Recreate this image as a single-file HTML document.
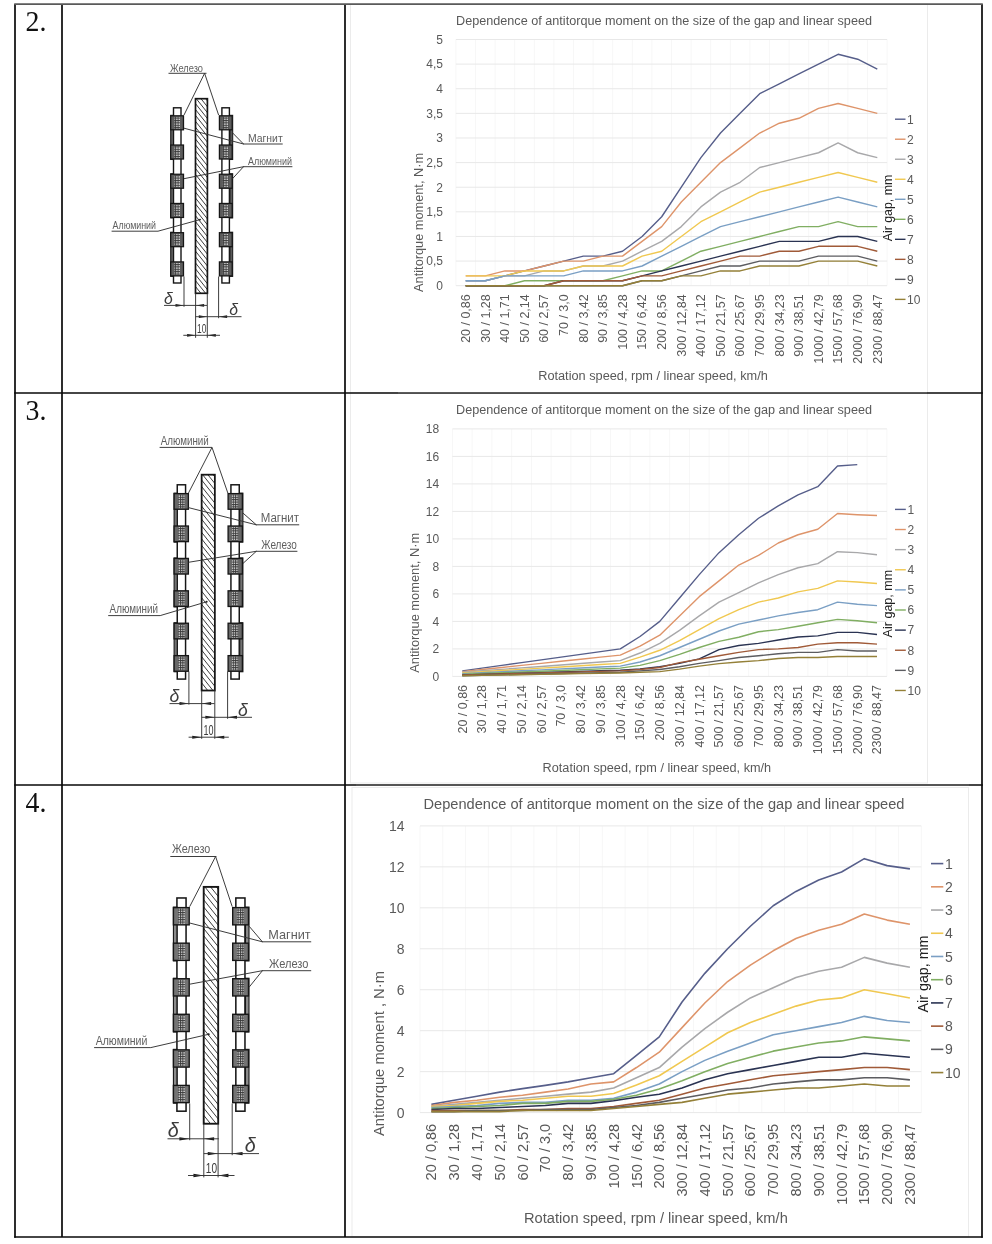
<!DOCTYPE html>
<html lang="en"><head><meta charset="utf-8"><title>Antitorque moment table</title>
<style>html,body{margin:0;padding:0;background:#fff}body{width:992px;height:1244px;position:relative;overflow:hidden;font-family:"Liberation Sans",sans-serif}#pg{position:absolute;left:0;top:0;filter:blur(0.4px)}text{font-family:"Liberation Sans",sans-serif}.num{font-family:"Liberation Serif",serif;font-size:29px;fill:#111}</style></head><body>
<svg id="pg" width="992" height="1244" viewBox="0 0 992 1244">
<rect width="992" height="1244" fill="#fff"/>
<!-- charts -->
<g><rect x="350.5" y="4" width="577.0" height="389" fill="#fff" stroke="#ebebeb" stroke-width="1"/>
<path d="M455.9 39.5V285.7M475.5 39.5V285.7M495.1 39.5V285.7M514.7 39.5V285.7M534.3 39.5V285.7M553.9 39.5V285.7M573.5 39.5V285.7M593.1 39.5V285.7M612.7 39.5V285.7M632.3 39.5V285.7M651.9 39.5V285.7M671.5 39.5V285.7M691.1 39.5V285.7M710.7 39.5V285.7M730.3 39.5V285.7M749.9 39.5V285.7M769.5 39.5V285.7M789.1 39.5V285.7M808.7 39.5V285.7M828.3 39.5V285.7M847.9 39.5V285.7M867.5 39.5V285.7M887.1 39.5V285.7" stroke="#f7f7f7" stroke-width="1" fill="none"/>
<path d="M455.9 285.7H887.1M455.9 261.08H887.1M455.9 236.46H887.1M455.9 211.84H887.1M455.9 187.22H887.1M455.9 162.6H887.1M455.9 137.98H887.1M455.9 113.36H887.1M455.9 88.74H887.1M455.9 64.12H887.1M455.9 39.5H887.1" stroke="#e8e8e8" stroke-width="1" fill="none"/>
<g font-size="12" fill="#595959" text-anchor="end">
<text x="443" y="290.02">0</text>
<text x="443" y="265.4">0,5</text>
<text x="443" y="240.78">1</text>
<text x="443" y="216.16">1,5</text>
<text x="443" y="191.54">2</text>
<text x="443" y="166.92">2,5</text>
<text x="443" y="142.3">3</text>
<text x="443" y="117.68">3,5</text>
<text x="443" y="93.06">4</text>
<text x="443" y="68.44">4,5</text>
<text x="443" y="43.82">5</text>
</g>
<g font-size="12.48" fill="#595959" text-anchor="end">
<text transform="translate(470.02 294.3) rotate(-90)">20 / 0,86</text>
<text transform="translate(489.62 294.3) rotate(-90)">30 / 1,28</text>
<text transform="translate(509.22 294.3) rotate(-90)">40 / 1,71</text>
<text transform="translate(528.82 294.3) rotate(-90)">50 / 2,14</text>
<text transform="translate(548.42 294.3) rotate(-90)">60 / 2,57</text>
<text transform="translate(568.02 294.3) rotate(-90)">70 / 3,0</text>
<text transform="translate(587.62 294.3) rotate(-90)">80 / 3,42</text>
<text transform="translate(607.22 294.3) rotate(-90)">90 / 3,85</text>
<text transform="translate(626.82 294.3) rotate(-90)">100 / 4,28</text>
<text transform="translate(646.42 294.3) rotate(-90)">150 / 6,42</text>
<text transform="translate(666.02 294.3) rotate(-90)">200 / 8,56</text>
<text transform="translate(685.62 294.3) rotate(-90)">300 / 12,84</text>
<text transform="translate(705.22 294.3) rotate(-90)">400 / 17,12</text>
<text transform="translate(724.82 294.3) rotate(-90)">500 / 21,57</text>
<text transform="translate(744.42 294.3) rotate(-90)">600 / 25,67</text>
<text transform="translate(764.02 294.3) rotate(-90)">700 / 29,95</text>
<text transform="translate(783.62 294.3) rotate(-90)">800 / 34,23</text>
<text transform="translate(803.22 294.3) rotate(-90)">900 / 38,51</text>
<text transform="translate(822.82 294.3) rotate(-90)">1000 / 42,79</text>
<text transform="translate(842.42 294.3) rotate(-90)">1500 / 57,68</text>
<text transform="translate(862.02 294.3) rotate(-90)">2000 / 76,90</text>
<text transform="translate(881.62 294.3) rotate(-90)">2300 / 88,47</text>
</g>
<text x="456" y="24.5" font-size="12" fill="#595959" textLength="416" lengthAdjust="spacingAndGlyphs">Dependence of antitorque moment on the size of the gap and linear speed</text>
<text x="538.2" y="380.3" font-size="12" fill="#595959" textLength="229.6" lengthAdjust="spacingAndGlyphs">Rotation speed, rpm / linear speed, km/h</text>
<text transform="translate(423 222.4) rotate(-90)" text-anchor="middle" font-size="12.5" fill="#595959" textLength="139" lengthAdjust="spacingAndGlyphs">Antitorque moment, N·m</text>
<polyline points="465.7,280.78 485.3,280.78 504.9,275.85 524.5,270.93 544.1,266 563.7,261.08 583.3,256.16 602.9,256.16 622.5,251.23 642.1,236.46 661.7,216.76 681.3,187.22 700.9,157.68 720.5,133.06 740.1,113.36 759.7,93.66 779.3,83.82 798.9,73.97 818.5,64.12 838.1,54.27 857.7,59.2 877.3,69.04" fill="none" stroke="#565e8a" stroke-width="1.4" stroke-linejoin="round"/>
<polyline points="465.7,275.85 485.3,275.85 504.9,270.93 524.5,270.93 544.1,266 563.7,261.08 583.3,261.08 602.9,256.16 622.5,256.16 642.1,241.38 661.7,226.61 681.3,201.99 700.9,182.3 720.5,162.6 740.1,147.83 759.7,133.06 779.3,123.21 798.9,118.28 818.5,108.44 838.1,103.51 857.7,108.44 877.3,113.36" fill="none" stroke="#de946a" stroke-width="1.4" stroke-linejoin="round"/>
<polyline points="465.7,280.78 485.3,280.78 504.9,275.85 524.5,275.85 544.1,270.93 563.7,270.93 583.3,266 602.9,266 622.5,261.08 642.1,251.23 661.7,241.38 681.3,226.61 700.9,206.92 720.5,192.14 740.1,182.3 759.7,167.52 779.3,162.6 798.9,157.68 818.5,152.75 838.1,142.9 857.7,152.75 877.3,157.68" fill="none" stroke="#a8a8aa" stroke-width="1.4" stroke-linejoin="round"/>
<polyline points="465.7,275.85 485.3,275.85 504.9,275.85 524.5,270.93 544.1,270.93 563.7,270.93 583.3,266 602.9,266 622.5,266 642.1,256.16 661.7,251.23 681.3,236.46 700.9,221.69 720.5,211.84 740.1,201.99 759.7,192.14 779.3,187.22 798.9,182.3 818.5,177.37 838.1,172.45 857.7,177.37 877.3,182.3" fill="none" stroke="#f0c850" stroke-width="1.4" stroke-linejoin="round"/>
<polyline points="465.7,280.78 485.3,280.78 504.9,275.85 524.5,275.85 544.1,275.85 563.7,275.85 583.3,270.93 602.9,270.93 622.5,270.93 642.1,266 661.7,256.16 681.3,246.31 700.9,236.46 720.5,226.61 740.1,221.69 759.7,216.76 779.3,211.84 798.9,206.92 818.5,201.99 838.1,197.07 857.7,201.99 877.3,206.92" fill="none" stroke="#7a9fc4" stroke-width="1.4" stroke-linejoin="round"/>
<polyline points="465.7,285.7 485.3,285.7 504.9,285.7 524.5,280.78 544.1,280.78 563.7,280.78 583.3,280.78 602.9,280.78 622.5,275.85 642.1,270.93 661.7,270.93 681.3,261.08 700.9,251.23 720.5,246.31 740.1,241.38 759.7,236.46 779.3,231.54 798.9,226.61 818.5,226.61 838.1,221.69 857.7,226.61 877.3,226.61" fill="none" stroke="#80ae62" stroke-width="1.4" stroke-linejoin="round"/>
<polyline points="465.7,285.7 485.3,285.7 504.9,285.7 524.5,285.7 544.1,285.7 563.7,280.78 583.3,280.78 602.9,280.78 622.5,280.78 642.1,275.85 661.7,270.93 681.3,266 700.9,261.08 720.5,256.16 740.1,251.23 759.7,246.31 779.3,241.38 798.9,241.38 818.5,241.38 838.1,236.46 857.7,236.46 877.3,241.38" fill="none" stroke="#2a3352" stroke-width="1.4" stroke-linejoin="round"/>
<polyline points="465.7,285.7 485.3,285.7 504.9,285.7 524.5,285.7 544.1,285.7 563.7,280.78 583.3,280.78 602.9,280.78 622.5,280.78 642.1,275.85 661.7,275.85 681.3,270.93 700.9,266 720.5,261.08 740.1,256.16 759.7,256.16 779.3,251.23 798.9,251.23 818.5,246.31 838.1,246.31 857.7,246.31 877.3,251.23" fill="none" stroke="#a05a38" stroke-width="1.4" stroke-linejoin="round"/>
<polyline points="465.7,285.7 485.3,285.7 504.9,285.7 524.5,285.7 544.1,285.7 563.7,285.7 583.3,285.7 602.9,285.7 622.5,285.7 642.1,280.78 661.7,280.78 681.3,275.85 700.9,270.93 720.5,266 740.1,266 759.7,261.08 779.3,261.08 798.9,261.08 818.5,256.16 838.1,256.16 857.7,256.16 877.3,261.08" fill="none" stroke="#5c5c60" stroke-width="1.4" stroke-linejoin="round"/>
<polyline points="465.7,285.7 485.3,285.7 504.9,285.7 524.5,285.7 544.1,285.7 563.7,285.7 583.3,285.7 602.9,285.7 622.5,285.7 642.1,280.78 661.7,280.78 681.3,275.85 700.9,275.85 720.5,270.93 740.1,270.93 759.7,266 779.3,266 798.9,266 818.5,261.08 838.1,261.08 857.7,261.08 877.3,266" fill="none" stroke="#948038" stroke-width="1.4" stroke-linejoin="round"/>
<line x1="895" x2="905.5" y1="119.2" y2="119.2" stroke="#565e8a" stroke-width="1.4"/>
<text x="907" y="123.52" font-size="12" fill="#595959">1</text>
<line x1="895" x2="905.5" y1="139.22" y2="139.22" stroke="#de946a" stroke-width="1.4"/>
<text x="907" y="143.54" font-size="12" fill="#595959">2</text>
<line x1="895" x2="905.5" y1="159.24" y2="159.24" stroke="#a8a8aa" stroke-width="1.4"/>
<text x="907" y="163.56" font-size="12" fill="#595959">3</text>
<line x1="895" x2="905.5" y1="179.26" y2="179.26" stroke="#f0c850" stroke-width="1.4"/>
<text x="907" y="183.58" font-size="12" fill="#595959">4</text>
<line x1="895" x2="905.5" y1="199.28" y2="199.28" stroke="#7a9fc4" stroke-width="1.4"/>
<text x="907" y="203.6" font-size="12" fill="#595959">5</text>
<line x1="895" x2="905.5" y1="219.3" y2="219.3" stroke="#80ae62" stroke-width="1.4"/>
<text x="907" y="223.62" font-size="12" fill="#595959">6</text>
<line x1="895" x2="905.5" y1="239.32" y2="239.32" stroke="#2a3352" stroke-width="1.4"/>
<text x="907" y="243.64" font-size="12" fill="#595959">7</text>
<line x1="895" x2="905.5" y1="259.34" y2="259.34" stroke="#a05a38" stroke-width="1.4"/>
<text x="907" y="263.66" font-size="12" fill="#595959">8</text>
<line x1="895" x2="905.5" y1="279.36" y2="279.36" stroke="#5c5c60" stroke-width="1.4"/>
<text x="907" y="283.68" font-size="12" fill="#595959">9</text>
<line x1="895" x2="905.5" y1="299.38" y2="299.38" stroke="#948038" stroke-width="1.4"/>
<text x="907" y="303.7" font-size="12" fill="#595959">10</text>
<text transform="translate(891.5 208) rotate(-90)" text-anchor="middle" font-size="12.5" fill="#222" textLength="66.5" lengthAdjust="spacingAndGlyphs">Air gap, mm</text></g>
<g><rect x="350.5" y="393" width="577.0" height="390" fill="#fff" stroke="#ebebeb" stroke-width="1"/>
<path d="M452.4 428.9V676.4M472.15 428.9V676.4M491.9 428.9V676.4M511.65 428.9V676.4M531.4 428.9V676.4M551.15 428.9V676.4M570.9 428.9V676.4M590.65 428.9V676.4M610.4 428.9V676.4M630.15 428.9V676.4M649.9 428.9V676.4M669.65 428.9V676.4M689.4 428.9V676.4M709.15 428.9V676.4M728.9 428.9V676.4M748.65 428.9V676.4M768.4 428.9V676.4M788.15 428.9V676.4M807.9 428.9V676.4M827.65 428.9V676.4M847.4 428.9V676.4M867.15 428.9V676.4M886.9 428.9V676.4" stroke="#f7f7f7" stroke-width="1" fill="none"/>
<path d="M452.4 676.4H886.9M452.4 648.9H886.9M452.4 621.4H886.9M452.4 593.9H886.9M452.4 566.4H886.9M452.4 538.9H886.9M452.4 511.4H886.9M452.4 483.9H886.9M452.4 456.4H886.9M452.4 428.9H886.9" stroke="#e8e8e8" stroke-width="1" fill="none"/>
<g font-size="12" fill="#595959" text-anchor="end">
<text x="439.2" y="680.72">0</text>
<text x="439.2" y="653.22">2</text>
<text x="439.2" y="625.72">4</text>
<text x="439.2" y="598.22">6</text>
<text x="439.2" y="570.72">8</text>
<text x="439.2" y="543.22">10</text>
<text x="439.2" y="515.72">12</text>
<text x="439.2" y="488.22">14</text>
<text x="439.2" y="460.72">16</text>
<text x="439.2" y="433.22">18</text>
</g>
<g font-size="12.48" fill="#595959" text-anchor="end">
<text transform="translate(466.59 685) rotate(-90)">20 / 0,86</text>
<text transform="translate(486.34 685) rotate(-90)">30 / 1,28</text>
<text transform="translate(506.09 685) rotate(-90)">40 / 1,71</text>
<text transform="translate(525.85 685) rotate(-90)">50 / 2,14</text>
<text transform="translate(545.6 685) rotate(-90)">60 / 2,57</text>
<text transform="translate(565.35 685) rotate(-90)">70 / 3,0</text>
<text transform="translate(585.1 685) rotate(-90)">80 / 3,42</text>
<text transform="translate(604.85 685) rotate(-90)">90 / 3,85</text>
<text transform="translate(624.6 685) rotate(-90)">100 / 4,28</text>
<text transform="translate(644.35 685) rotate(-90)">150 / 6,42</text>
<text transform="translate(664.1 685) rotate(-90)">200 / 8,56</text>
<text transform="translate(683.85 685) rotate(-90)">300 / 12,84</text>
<text transform="translate(703.6 685) rotate(-90)">400 / 17,12</text>
<text transform="translate(723.35 685) rotate(-90)">500 / 21,57</text>
<text transform="translate(743.1 685) rotate(-90)">600 / 25,67</text>
<text transform="translate(762.85 685) rotate(-90)">700 / 29,95</text>
<text transform="translate(782.6 685) rotate(-90)">800 / 34,23</text>
<text transform="translate(802.35 685) rotate(-90)">900 / 38,51</text>
<text transform="translate(822.1 685) rotate(-90)">1000 / 42,79</text>
<text transform="translate(841.85 685) rotate(-90)">1500 / 57,68</text>
<text transform="translate(861.6 685) rotate(-90)">2000 / 76,90</text>
<text transform="translate(881.35 685) rotate(-90)">2300 / 88,47</text>
</g>
<text x="456" y="413.5" font-size="12" fill="#595959" textLength="416" lengthAdjust="spacingAndGlyphs">Dependence of antitorque moment on the size of the gap and linear speed</text>
<text x="542.6" y="772.1" font-size="12" fill="#595959" textLength="228.6" lengthAdjust="spacingAndGlyphs">Rotation speed, rpm / linear speed, km/h</text>
<text transform="translate(419.3 602.8) rotate(-90)" text-anchor="middle" font-size="12.5" fill="#595959" textLength="140" lengthAdjust="spacingAndGlyphs">Antitorque moment, N·m</text>
<polyline points="462.27,670.9 482.02,668.15 501.77,665.4 521.52,662.65 541.27,659.9 561.02,657.15 580.77,654.4 600.52,651.65 620.27,648.9 640.02,636.52 659.77,621.4 679.52,598.02 699.27,574.65 719.02,552.65 738.77,534.77 758.52,518.27 778.27,505.9 798.02,494.9 817.77,486.65 837.52,466.02 857.27,464.65" fill="none" stroke="#565e8a" stroke-width="1.4" stroke-linejoin="round"/>
<polyline points="462.27,671.59 482.02,669.52 501.77,667.46 521.52,665.4 541.27,663.34 561.02,661.27 580.77,659.21 600.52,657.15 620.27,655.09 640.02,646.15 659.77,635.15 679.52,615.9 699.27,596.65 719.02,580.84 738.77,565.02 758.52,555.4 778.27,543.02 798.02,534.77 817.77,529.27 837.52,513.46 857.27,514.7 877.02,515.52" fill="none" stroke="#de946a" stroke-width="1.4" stroke-linejoin="round"/>
<polyline points="462.27,672.27 482.02,670.81 501.77,669.35 521.52,667.89 541.27,666.43 561.02,664.97 580.77,663.51 600.52,662.05 620.27,660.59 640.02,653.02 659.77,643.4 679.52,630.34 699.27,615.9 719.02,602.15 738.77,592.52 758.52,582.9 778.27,574.65 798.02,567.77 817.77,563.65 837.52,551.69 857.27,552.65 877.02,554.71" fill="none" stroke="#a8a8aa" stroke-width="1.4" stroke-linejoin="round"/>
<polyline points="462.27,672.96 482.02,671.76 501.77,670.56 521.52,669.35 541.27,668.15 561.02,666.95 580.77,665.74 600.52,664.54 620.27,663.34 640.02,657.15 659.77,650.27 679.52,640.65 699.27,629.65 719.02,618.65 738.77,609.71 758.52,602.15 778.27,598.02 798.02,591.84 817.77,588.4 837.52,580.84 857.27,581.94 877.02,583.45" fill="none" stroke="#f0c850" stroke-width="1.4" stroke-linejoin="round"/>
<polyline points="462.27,673.65 482.02,672.7 501.77,671.76 521.52,670.81 541.27,669.87 561.02,668.92 580.77,667.98 600.52,667.03 620.27,666.09 640.02,661.96 659.77,655.77 679.52,647.52 699.27,639.27 719.02,631.02 738.77,624.15 758.52,620.02 778.27,615.9 798.02,612.46 817.77,609.71 837.52,602.15 857.27,604.21 877.02,605.59" fill="none" stroke="#7a9fc4" stroke-width="1.4" stroke-linejoin="round"/>
<polyline points="462.27,674.34 482.02,673.56 501.77,672.79 521.52,672.02 541.27,671.24 561.02,670.47 580.77,669.7 600.52,668.92 620.27,668.15 640.02,665.4 659.77,660.59 679.52,654.4 699.27,647.52 719.02,641.34 738.77,637.21 758.52,631.71 778.27,629.65 798.02,626.21 817.77,622.77 837.52,619.34 857.27,620.71 877.02,622.77" fill="none" stroke="#80ae62" stroke-width="1.4" stroke-linejoin="round"/>
<polyline points="462.27,675.02 482.02,674.42 501.77,673.82 521.52,673.22 541.27,672.62 561.02,672.02 580.77,671.42 600.52,670.81 620.27,670.21 640.02,668.84 659.77,666.77 679.52,663.34 699.27,658.94 719.02,649.59 738.77,645.46 758.52,643.4 778.27,639.96 798.02,636.94 817.77,635.84 837.52,632.4 857.27,632.4 877.02,634.46" fill="none" stroke="#2a3352" stroke-width="1.4" stroke-linejoin="round"/>
<polyline points="462.27,675.02 482.02,674.51 501.77,673.99 521.52,673.48 541.27,672.96 561.02,672.45 580.77,671.93 600.52,671.42 620.27,670.9 640.02,669.52 659.77,667.46 679.52,662.65 699.27,659.21 719.02,655.77 738.77,652.34 758.52,649.59 778.27,648.9 798.02,647.52 817.77,644.09 837.52,642.71 857.27,642.71 877.02,644.09" fill="none" stroke="#a05a38" stroke-width="1.4" stroke-linejoin="round"/>
<polyline points="462.27,675.71 482.02,675.28 501.77,674.85 521.52,674.42 541.27,673.99 561.02,673.56 580.77,673.13 600.52,672.7 620.27,672.27 640.02,670.9 659.77,669.52 679.52,666.77 699.27,663.34 719.02,660.59 738.77,657.56 758.52,655.77 778.27,653.71 798.02,652.34 817.77,652.34 837.52,649.59 857.27,650.96 877.02,650.96" fill="none" stroke="#5c5c60" stroke-width="1.4" stroke-linejoin="round"/>
<polyline points="462.27,675.71 482.02,675.37 501.77,675.02 521.52,674.68 541.27,674.34 561.02,673.99 580.77,673.65 600.52,673.31 620.27,672.96 640.02,672.27 659.77,671.59 679.52,669.11 699.27,666.09 719.02,663.61 738.77,661.96 758.52,660.59 778.27,658.52 798.02,657.56 817.77,657.56 837.52,656.46 857.27,656.46 877.02,656.46" fill="none" stroke="#948038" stroke-width="1.4" stroke-linejoin="round"/>
<line x1="895" x2="905.8" y1="509.4" y2="509.4" stroke="#565e8a" stroke-width="1.4"/>
<text x="907.5" y="513.72" font-size="12" fill="#595959">1</text>
<line x1="895" x2="905.8" y1="529.52" y2="529.52" stroke="#de946a" stroke-width="1.4"/>
<text x="907.5" y="533.84" font-size="12" fill="#595959">2</text>
<line x1="895" x2="905.8" y1="549.64" y2="549.64" stroke="#a8a8aa" stroke-width="1.4"/>
<text x="907.5" y="553.96" font-size="12" fill="#595959">3</text>
<line x1="895" x2="905.8" y1="569.76" y2="569.76" stroke="#f0c850" stroke-width="1.4"/>
<text x="907.5" y="574.08" font-size="12" fill="#595959">4</text>
<line x1="895" x2="905.8" y1="589.88" y2="589.88" stroke="#7a9fc4" stroke-width="1.4"/>
<text x="907.5" y="594.2" font-size="12" fill="#595959">5</text>
<line x1="895" x2="905.8" y1="610" y2="610" stroke="#80ae62" stroke-width="1.4"/>
<text x="907.5" y="614.32" font-size="12" fill="#595959">6</text>
<line x1="895" x2="905.8" y1="630.12" y2="630.12" stroke="#2a3352" stroke-width="1.4"/>
<text x="907.5" y="634.44" font-size="12" fill="#595959">7</text>
<line x1="895" x2="905.8" y1="650.24" y2="650.24" stroke="#a05a38" stroke-width="1.4"/>
<text x="907.5" y="654.56" font-size="12" fill="#595959">8</text>
<line x1="895" x2="905.8" y1="670.36" y2="670.36" stroke="#5c5c60" stroke-width="1.4"/>
<text x="907.5" y="674.68" font-size="12" fill="#595959">9</text>
<line x1="895" x2="905.8" y1="690.48" y2="690.48" stroke="#948038" stroke-width="1.4"/>
<text x="907.5" y="694.8" font-size="12" fill="#595959">10</text>
<text transform="translate(892 603.6) rotate(-90)" text-anchor="middle" font-size="12.5" fill="#222" textLength="67.6" lengthAdjust="spacingAndGlyphs">Air gap, mm</text></g>
<g><rect x="352" y="787.5" width="616.5" height="449.5" fill="#fff" stroke="#ebebeb" stroke-width="1"/>
<path d="M420 825.9V1112.6M442.79 825.9V1112.6M465.57 825.9V1112.6M488.36 825.9V1112.6M511.15 825.9V1112.6M533.93 825.9V1112.6M556.72 825.9V1112.6M579.5 825.9V1112.6M602.29 825.9V1112.6M625.08 825.9V1112.6M647.86 825.9V1112.6M670.65 825.9V1112.6M693.44 825.9V1112.6M716.22 825.9V1112.6M739.01 825.9V1112.6M761.8 825.9V1112.6M784.58 825.9V1112.6M807.37 825.9V1112.6M830.15 825.9V1112.6M852.94 825.9V1112.6M875.73 825.9V1112.6M898.51 825.9V1112.6M921.3 825.9V1112.6" stroke="#f7f7f7" stroke-width="1" fill="none"/>
<path d="M420 1112.6H921.3M420 1071.64H921.3M420 1030.69H921.3M420 989.73H921.3M420 948.77H921.3M420 907.81H921.3M420 866.86H921.3M420 825.9H921.3" stroke="#e8e8e8" stroke-width="1" fill="none"/>
<g font-size="14" fill="#595959" text-anchor="end">
<text x="404.5" y="1117.64">0</text>
<text x="404.5" y="1076.68">2</text>
<text x="404.5" y="1035.73">4</text>
<text x="404.5" y="994.77">6</text>
<text x="404.5" y="953.81">8</text>
<text x="404.5" y="912.85">10</text>
<text x="404.5" y="871.9">12</text>
<text x="404.5" y="830.94">14</text>
</g>
<g font-size="14.56" fill="#595959" text-anchor="end">
<text transform="translate(436.43 1123.8) rotate(-90)">20 / 0,86</text>
<text transform="translate(459.22 1123.8) rotate(-90)">30 / 1,28</text>
<text transform="translate(482.01 1123.8) rotate(-90)">40 / 1,71</text>
<text transform="translate(504.79 1123.8) rotate(-90)">50 / 2,14</text>
<text transform="translate(527.58 1123.8) rotate(-90)">60 / 2,57</text>
<text transform="translate(550.37 1123.8) rotate(-90)">70 / 3,0</text>
<text transform="translate(573.15 1123.8) rotate(-90)">80 / 3,42</text>
<text transform="translate(595.94 1123.8) rotate(-90)">90 / 3,85</text>
<text transform="translate(618.72 1123.8) rotate(-90)">100 / 4,28</text>
<text transform="translate(641.51 1123.8) rotate(-90)">150 / 6,42</text>
<text transform="translate(664.3 1123.8) rotate(-90)">200 / 8,56</text>
<text transform="translate(687.08 1123.8) rotate(-90)">300 / 12,84</text>
<text transform="translate(709.87 1123.8) rotate(-90)">400 / 17,12</text>
<text transform="translate(732.66 1123.8) rotate(-90)">500 / 21,57</text>
<text transform="translate(755.44 1123.8) rotate(-90)">600 / 25,67</text>
<text transform="translate(778.23 1123.8) rotate(-90)">700 / 29,95</text>
<text transform="translate(801.01 1123.8) rotate(-90)">800 / 34,23</text>
<text transform="translate(823.8 1123.8) rotate(-90)">900 / 38,51</text>
<text transform="translate(846.59 1123.8) rotate(-90)">1000 / 42,79</text>
<text transform="translate(869.37 1123.8) rotate(-90)">1500 / 57,68</text>
<text transform="translate(892.16 1123.8) rotate(-90)">2000 / 76,90</text>
<text transform="translate(914.95 1123.8) rotate(-90)">2300 / 88,47</text>
</g>
<text x="423.5" y="808.5" font-size="14" fill="#595959" textLength="481" lengthAdjust="spacingAndGlyphs">Dependence of antitorque moment on the size of the gap and linear speed</text>
<text x="524" y="1223.4" font-size="14" fill="#595959" textLength="263.8" lengthAdjust="spacingAndGlyphs">Rotation speed, rpm / linear speed, km/h</text>
<text transform="translate(384.3 1053.5) rotate(-90)" text-anchor="middle" font-size="14.5" fill="#595959" textLength="165" lengthAdjust="spacingAndGlyphs">Antitorque moment , N·m</text>
<polyline points="431.39,1104.41 454.18,1100.31 476.97,1096.22 499.75,1092.12 522.54,1088.64 545.33,1085.36 568.11,1081.88 590.9,1077.79 613.68,1073.69 636.47,1055.26 659.26,1036.83 682.04,1002.02 704.83,973.35 727.62,948.77 750.4,926.24 773.19,905.77 795.97,891.43 818.76,879.96 841.55,871.98 864.33,858.67 887.12,865.63 909.91,868.9" fill="none" stroke="#565e8a" stroke-width="1.6" stroke-linejoin="round"/>
<polyline points="431.39,1105.43 454.18,1102.36 476.97,1100.31 499.75,1097.24 522.54,1095.19 545.33,1092.12 568.11,1089.05 590.9,1083.93 613.68,1081.88 636.47,1067.55 659.26,1052.19 682.04,1027.61 704.83,1003.04 727.62,981.54 750.4,965.15 773.19,950.82 795.97,938.53 818.76,930.34 841.55,924.2 864.33,913.96 887.12,920.1 909.91,924.2" fill="none" stroke="#de946a" stroke-width="1.6" stroke-linejoin="round"/>
<polyline points="431.39,1106.46 454.18,1104.41 476.97,1102.36 499.75,1100.31 522.54,1098.26 545.33,1096.22 568.11,1094.17 590.9,1092.12 613.68,1088.03 636.47,1077.79 659.26,1067.55 682.04,1047.07 704.83,1028.64 727.62,1012.25 750.4,997.92 773.19,987.68 795.97,977.44 818.76,971.3 841.55,967.2 864.33,957.37 887.12,963.11 909.91,967.2" fill="none" stroke="#a8a8aa" stroke-width="1.6" stroke-linejoin="round"/>
<polyline points="431.39,1106.46 454.18,1105.43 476.97,1103.38 499.75,1101.34 522.54,1100.31 545.33,1098.26 568.11,1096.22 590.9,1096.22 613.68,1093.55 636.47,1084.95 659.26,1075.74 682.04,1061.4 704.83,1047.07 727.62,1032.73 750.4,1022.49 773.19,1014.3 795.97,1006.11 818.76,999.97 841.55,997.92 864.33,989.73 887.12,993.82 909.91,997.92" fill="none" stroke="#f0c850" stroke-width="1.6" stroke-linejoin="round"/>
<polyline points="431.39,1107.48 454.18,1106.46 476.97,1105.43 499.75,1103.38 522.54,1102.36 545.33,1102.36 568.11,1100.31 590.9,1100.31 613.68,1098.26 636.47,1092.12 659.26,1083.93 682.04,1071.64 704.83,1060.38 727.62,1051.16 750.4,1042.97 773.19,1034.78 795.97,1030.69 818.76,1026.59 841.55,1022.49 864.33,1016.35 887.12,1020.45 909.91,1022.49" fill="none" stroke="#7a9fc4" stroke-width="1.6" stroke-linejoin="round"/>
<polyline points="431.39,1108.5 454.18,1107.48 476.97,1106.46 499.75,1105.43 522.54,1103.38 545.33,1103.38 568.11,1101.34 590.9,1101.34 613.68,1099.29 636.47,1095.19 659.26,1089.05 682.04,1080.86 704.83,1071.64 727.62,1063.45 750.4,1057.31 773.19,1051.16 795.97,1047.07 818.76,1042.97 841.55,1040.92 864.33,1036.83 887.12,1038.88 909.91,1040.92" fill="none" stroke="#80ae62" stroke-width="1.6" stroke-linejoin="round"/>
<polyline points="431.39,1109.53 454.18,1108.5 476.97,1108.5 499.75,1107.48 522.54,1106.46 545.33,1105.43 568.11,1103.38 590.9,1103.38 613.68,1100.72 636.47,1097.24 659.26,1094.17 682.04,1088.03 704.83,1079.83 727.62,1073.69 750.4,1069.59 773.19,1065.5 795.97,1061.4 818.76,1057.31 841.55,1057.31 864.33,1053.21 887.12,1055.26 909.91,1057.31" fill="none" stroke="#2a3352" stroke-width="1.6" stroke-linejoin="round"/>
<polyline points="431.39,1110.55 454.18,1110.55 476.97,1110.55 499.75,1110.55 522.54,1109.53 545.33,1109.53 568.11,1108.5 590.9,1108.5 613.68,1106.46 636.47,1103.38 659.26,1100.31 682.04,1094.17 704.83,1088.03 727.62,1083.93 750.4,1079.83 773.19,1075.74 795.97,1073.69 818.76,1071.64 841.55,1069.59 864.33,1067.55 887.12,1067.55 909.91,1069.59" fill="none" stroke="#a05a38" stroke-width="1.6" stroke-linejoin="round"/>
<polyline points="431.39,1111.58 454.18,1111.58 476.97,1110.55 499.75,1110.55 522.54,1110.55 545.33,1109.53 568.11,1109.53 590.9,1109.53 613.68,1107.48 636.47,1105.43 659.26,1102.36 682.04,1098.26 704.83,1094.17 727.62,1090.07 750.4,1088.03 773.19,1083.93 795.97,1081.88 818.76,1079.83 841.55,1079.83 864.33,1077.79 887.12,1077.79 909.91,1079.83" fill="none" stroke="#5c5c60" stroke-width="1.6" stroke-linejoin="round"/>
<polyline points="431.39,1111.58 454.18,1111.58 476.97,1111.58 499.75,1111.58 522.54,1110.55 545.33,1110.55 568.11,1110.55 590.9,1110.55 613.68,1108.5 636.47,1106.46 659.26,1104.41 682.04,1102.36 704.83,1098.26 727.62,1094.17 750.4,1092.12 773.19,1090.07 795.97,1088.03 818.76,1088.03 841.55,1085.98 864.33,1083.93 887.12,1085.98 909.91,1085.98" fill="none" stroke="#948038" stroke-width="1.6" stroke-linejoin="round"/>
<line x1="931" x2="943.3" y1="863.6" y2="863.6" stroke="#565e8a" stroke-width="1.6"/>
<text x="945" y="868.64" font-size="14" fill="#595959">1</text>
<line x1="931" x2="943.3" y1="886.82" y2="886.82" stroke="#de946a" stroke-width="1.6"/>
<text x="945" y="891.86" font-size="14" fill="#595959">2</text>
<line x1="931" x2="943.3" y1="910.04" y2="910.04" stroke="#a8a8aa" stroke-width="1.6"/>
<text x="945" y="915.08" font-size="14" fill="#595959">3</text>
<line x1="931" x2="943.3" y1="933.26" y2="933.26" stroke="#f0c850" stroke-width="1.6"/>
<text x="945" y="938.3" font-size="14" fill="#595959">4</text>
<line x1="931" x2="943.3" y1="956.48" y2="956.48" stroke="#7a9fc4" stroke-width="1.6"/>
<text x="945" y="961.52" font-size="14" fill="#595959">5</text>
<line x1="931" x2="943.3" y1="979.7" y2="979.7" stroke="#80ae62" stroke-width="1.6"/>
<text x="945" y="984.74" font-size="14" fill="#595959">6</text>
<line x1="931" x2="943.3" y1="1002.92" y2="1002.92" stroke="#2a3352" stroke-width="1.6"/>
<text x="945" y="1007.96" font-size="14" fill="#595959">7</text>
<line x1="931" x2="943.3" y1="1026.14" y2="1026.14" stroke="#a05a38" stroke-width="1.6"/>
<text x="945" y="1031.18" font-size="14" fill="#595959">8</text>
<line x1="931" x2="943.3" y1="1049.36" y2="1049.36" stroke="#5c5c60" stroke-width="1.6"/>
<text x="945" y="1054.4" font-size="14" fill="#595959">9</text>
<line x1="931" x2="943.3" y1="1072.58" y2="1072.58" stroke="#948038" stroke-width="1.6"/>
<text x="945" y="1077.62" font-size="14" fill="#595959">10</text>
<text transform="translate(927.5 974) rotate(-90)" text-anchor="middle" font-size="14.3" fill="#222" textLength="76.8" lengthAdjust="spacingAndGlyphs">Air gap, mm</text></g>
<!-- diagrams -->
<defs><pattern id="xh" width="2.4" height="2.4" patternUnits="userSpaceOnUse"><rect width="2.4" height="2.4" fill="#dcdcdc"/><path d="M0 0.5H2.4M0.5 0V2.4" stroke="#383838" stroke-width="0.95"/></pattern></defs>
<g><clipPath id="cp1"><rect x="195.5" y="98.7" width="11.9" height="194.6"/></clipPath>
<path d="M194.5 84.7L208.4 102.07M194.5 90.6L208.4 107.97M194.5 96.5L208.4 113.87M194.5 102.4L208.4 119.77M194.5 108.3L208.4 125.67M194.5 114.2L208.4 131.57M194.5 120.1L208.4 137.48M194.5 126L208.4 143.38M194.5 131.9L208.4 149.28M194.5 137.8L208.4 155.18M194.5 143.7L208.4 161.08M194.5 149.6L208.4 166.98M194.5 155.5L208.4 172.88M194.5 161.4L208.4 178.78M194.5 167.3L208.4 184.68M194.5 173.2L208.4 190.58M194.5 179.1L208.4 196.48M194.5 185L208.4 202.38M194.5 190.9L208.4 208.28M194.5 196.8L208.4 214.18M194.5 202.7L208.4 220.08M194.5 208.6L208.4 225.98M194.5 214.5L208.4 231.88M194.5 220.4L208.4 237.78M194.5 226.3L208.4 243.68M194.5 232.2L208.4 249.58M194.5 238.1L208.4 255.48M194.5 244L208.4 261.38M194.5 249.9L208.4 267.28M194.5 255.8L208.4 273.18M194.5 261.7L208.4 279.08M194.5 267.6L208.4 284.98M194.5 273.5L208.4 290.88M194.5 279.4L208.4 296.78M194.5 285.3L208.4 302.68M194.5 291.2L208.4 308.58" stroke="#333" stroke-width="0.95" fill="none" clip-path="url(#cp1)"/>
<rect x="195.5" y="98.7" width="11.9" height="194.6" fill="none" stroke="#161616" stroke-width="1.7"/>
<rect x="173.5" y="107.8" width="7.5" height="175.2" fill="#fff" stroke="#161616" stroke-width="1.4"/>
<rect x="170.7" y="115.3" width="2.8" height="44.22" fill="#5a5a5a" stroke="#161616" stroke-width="1"/>
<rect x="170.7" y="173.74" width="2.8" height="44.22" fill="#5a5a5a" stroke="#161616" stroke-width="1"/>
<rect x="170.7" y="232.18" width="2.8" height="44.22" fill="#5a5a5a" stroke="#161616" stroke-width="1"/>
<rect x="170.7" y="115.8" width="12.8" height="14" fill="#5c5c5c" stroke="#161616" stroke-width="1.25"/>
<rect x="174.5" y="116.9" width="5.5" height="11.8" fill="url(#xh)"/>
<rect x="170.7" y="145.02" width="12.8" height="14" fill="#5c5c5c" stroke="#161616" stroke-width="1.25"/>
<rect x="174.5" y="146.12" width="5.5" height="11.8" fill="url(#xh)"/>
<rect x="170.7" y="174.24" width="12.8" height="14" fill="#5c5c5c" stroke="#161616" stroke-width="1.25"/>
<rect x="174.5" y="175.34" width="5.5" height="11.8" fill="url(#xh)"/>
<rect x="170.7" y="203.46" width="12.8" height="14" fill="#5c5c5c" stroke="#161616" stroke-width="1.25"/>
<rect x="174.5" y="204.56" width="5.5" height="11.8" fill="url(#xh)"/>
<rect x="170.7" y="232.68" width="12.8" height="14" fill="#5c5c5c" stroke="#161616" stroke-width="1.25"/>
<rect x="174.5" y="233.78" width="5.5" height="11.8" fill="url(#xh)"/>
<rect x="170.7" y="261.9" width="12.8" height="14" fill="#5c5c5c" stroke="#161616" stroke-width="1.25"/>
<rect x="174.5" y="263" width="5.5" height="11.8" fill="url(#xh)"/>
<rect x="221.9" y="107.8" width="7.5" height="175.2" fill="#fff" stroke="#161616" stroke-width="1.4"/>
<rect x="229.9" y="115.3" width="2.8" height="44.22" fill="#5a5a5a" stroke="#161616" stroke-width="1"/>
<rect x="229.9" y="173.74" width="2.8" height="44.22" fill="#5a5a5a" stroke="#161616" stroke-width="1"/>
<rect x="229.9" y="232.18" width="2.8" height="44.22" fill="#5a5a5a" stroke="#161616" stroke-width="1"/>
<rect x="219.4" y="115.8" width="12.8" height="14" fill="#5c5c5c" stroke="#161616" stroke-width="1.25"/>
<rect x="222.9" y="116.9" width="5.5" height="11.8" fill="url(#xh)"/>
<rect x="219.4" y="145.02" width="12.8" height="14" fill="#5c5c5c" stroke="#161616" stroke-width="1.25"/>
<rect x="222.9" y="146.12" width="5.5" height="11.8" fill="url(#xh)"/>
<rect x="219.4" y="174.24" width="12.8" height="14" fill="#5c5c5c" stroke="#161616" stroke-width="1.25"/>
<rect x="222.9" y="175.34" width="5.5" height="11.8" fill="url(#xh)"/>
<rect x="219.4" y="203.46" width="12.8" height="14" fill="#5c5c5c" stroke="#161616" stroke-width="1.25"/>
<rect x="222.9" y="204.56" width="5.5" height="11.8" fill="url(#xh)"/>
<rect x="219.4" y="232.68" width="12.8" height="14" fill="#5c5c5c" stroke="#161616" stroke-width="1.25"/>
<rect x="222.9" y="233.78" width="5.5" height="11.8" fill="url(#xh)"/>
<rect x="219.4" y="261.9" width="12.8" height="14" fill="#5c5c5c" stroke="#161616" stroke-width="1.25"/>
<rect x="222.9" y="263" width="5.5" height="11.8" fill="url(#xh)"/>
<text x="170" y="72" font-size="11.5" textLength="33" lengthAdjust="spacingAndGlyphs" fill="#5e5e5e">Железо</text>
<text x="248" y="141.8" font-size="11.5" textLength="34.7" lengthAdjust="spacingAndGlyphs" fill="#5e5e5e">Магнит</text>
<text x="248" y="165.2" font-size="11.5" textLength="44" lengthAdjust="spacingAndGlyphs" fill="#5e5e5e">Алюминий</text>
<text x="112.6" y="229.3" font-size="11.5" textLength="43.4" lengthAdjust="spacingAndGlyphs" fill="#5e5e5e">Алюминий</text>
<circle cx="200" cy="219.6" r="0.9" fill="#161616"/>
<path d="M184 305.4L175.5 304.05L175.5 306.75Z" fill="#161616" stroke="none"/>
<path d="M195.6 305.4L204.1 304.05L204.1 306.75Z" fill="#161616" stroke="none"/>
<path d="M207.3 316.7L198.8 315.35L198.8 318.05Z" fill="#161616" stroke="none"/>
<path d="M218.6 316.7L227.1 315.35L227.1 318.05Z" fill="#161616" stroke="none"/>
<path d="M195.6 335.3L187.1 333.95L187.1 336.65Z" fill="#161616" stroke="none"/>
<path d="M207.3 335.3L215.8 333.95L215.8 336.65Z" fill="#161616" stroke="none"/>
<path d="M168.5 73.3H206.5M204.6 73.3L184 115M204.6 73.3L218.6 115M243 144H282.7M243.5 144L184 128.2M243.5 144L232.5 132.8M243 166.7H292.4M243.5 166.7L184 178.7M243.5 166.7L232.5 178.7M111.6 231.2H158M158 231.2L200 219.6M184 276.5V306.8M218.6 276.5V318.2M195.6 293.3V337.8M207.3 293.3V337.8M164 305.4H207M195.6 316.7H241.5M183.3 335.3H220" stroke="#333" stroke-width="0.95" fill="none"/>
<text x="164" y="303.8" font-size="16" textLength="8.8" lengthAdjust="spacingAndGlyphs" fill="#3c3c3c" font-style="italic">δ</text>
<text x="229.3" y="315.1" font-size="16" textLength="8.8" lengthAdjust="spacingAndGlyphs" fill="#3c3c3c" font-style="italic">δ</text>
<text x="197" y="333.2" font-size="12.5" textLength="9.3" lengthAdjust="spacingAndGlyphs" fill="#3c3c3c" font-style="normal">10</text></g>
<g><clipPath id="cp2"><rect x="201.65" y="474.7" width="13.2" height="215.81"/></clipPath>
<path d="M200.65 459.17L215.85 478.17M200.65 465.72L215.85 484.71M200.65 472.26L215.85 491.26M200.65 478.8L215.85 497.8M200.65 485.35L215.85 504.34M200.65 491.89L215.85 510.89M200.65 498.43L215.85 517.43M200.65 504.98L215.85 523.97M200.65 511.52L215.85 530.52M200.65 518.06L215.85 537.06M200.65 524.6L215.85 543.6M200.65 531.15L215.85 550.14M200.65 537.69L215.85 556.69M200.65 544.23L215.85 563.23M200.65 550.78L215.85 569.77M200.65 557.32L215.85 576.32M200.65 563.86L215.85 582.86M200.65 570.41L215.85 589.4M200.65 576.95L215.85 595.95M200.65 583.49L215.85 602.49M200.65 590.04L215.85 609.03M200.65 596.58L215.85 615.58M200.65 603.12L215.85 622.12M200.65 609.67L215.85 628.66M200.65 616.21L215.85 635.2M200.65 622.75L215.85 641.75M200.65 629.29L215.85 648.29M200.65 635.84L215.85 654.83M200.65 642.38L215.85 661.38M200.65 648.92L215.85 667.92M200.65 655.47L215.85 674.46M200.65 662.01L215.85 681.01M200.65 668.55L215.85 687.55M200.65 675.1L215.85 694.09M200.65 681.64L215.85 700.64M200.65 688.18L215.85 707.18" stroke="#333" stroke-width="0.95" fill="none" clip-path="url(#cp2)"/>
<rect x="201.65" y="474.7" width="13.2" height="215.81" fill="none" stroke="#161616" stroke-width="1.79"/>
<rect x="177.25" y="484.79" width="8.32" height="194.3" fill="#fff" stroke="#161616" stroke-width="1.47"/>
<rect x="174.09" y="493.11" width="3.16" height="49.04" fill="#737373" stroke="#161616" stroke-width="1.05"/>
<rect x="174.09" y="557.92" width="3.16" height="49.04" fill="#737373" stroke="#161616" stroke-width="1.05"/>
<rect x="174.09" y="622.73" width="3.16" height="49.04" fill="#737373" stroke="#161616" stroke-width="1.05"/>
<rect x="174.09" y="493.61" width="14.3" height="15.63" fill="#676767" stroke="#161616" stroke-width="1.32"/>
<rect x="178.25" y="494.71" width="6.32" height="13.43" fill="url(#xh)"/>
<rect x="174.09" y="526.01" width="14.3" height="15.63" fill="#676767" stroke="#161616" stroke-width="1.32"/>
<rect x="178.25" y="527.11" width="6.32" height="13.43" fill="url(#xh)"/>
<rect x="174.09" y="558.42" width="14.3" height="15.63" fill="#676767" stroke="#161616" stroke-width="1.32"/>
<rect x="178.25" y="559.52" width="6.32" height="13.43" fill="url(#xh)"/>
<rect x="174.09" y="590.82" width="14.3" height="15.63" fill="#676767" stroke="#161616" stroke-width="1.32"/>
<rect x="178.25" y="591.92" width="6.32" height="13.43" fill="url(#xh)"/>
<rect x="174.09" y="623.23" width="14.3" height="15.63" fill="#676767" stroke="#161616" stroke-width="1.32"/>
<rect x="178.25" y="624.33" width="6.32" height="13.43" fill="url(#xh)"/>
<rect x="174.09" y="655.63" width="14.3" height="15.63" fill="#676767" stroke="#161616" stroke-width="1.32"/>
<rect x="178.25" y="656.73" width="6.32" height="13.43" fill="url(#xh)"/>
<rect x="230.93" y="484.79" width="8.32" height="194.3" fill="#fff" stroke="#161616" stroke-width="1.47"/>
<rect x="239.75" y="493.11" width="3.16" height="49.04" fill="#737373" stroke="#161616" stroke-width="1.05"/>
<rect x="239.75" y="557.92" width="3.16" height="49.04" fill="#737373" stroke="#161616" stroke-width="1.05"/>
<rect x="239.75" y="622.73" width="3.16" height="49.04" fill="#737373" stroke="#161616" stroke-width="1.05"/>
<rect x="228.1" y="493.61" width="14.3" height="15.63" fill="#676767" stroke="#161616" stroke-width="1.32"/>
<rect x="231.93" y="494.71" width="6.32" height="13.43" fill="url(#xh)"/>
<rect x="228.1" y="526.01" width="14.3" height="15.63" fill="#676767" stroke="#161616" stroke-width="1.32"/>
<rect x="231.93" y="527.11" width="6.32" height="13.43" fill="url(#xh)"/>
<rect x="228.1" y="558.42" width="14.3" height="15.63" fill="#676767" stroke="#161616" stroke-width="1.32"/>
<rect x="231.93" y="559.52" width="6.32" height="13.43" fill="url(#xh)"/>
<rect x="228.1" y="590.82" width="14.3" height="15.63" fill="#676767" stroke="#161616" stroke-width="1.32"/>
<rect x="231.93" y="591.92" width="6.32" height="13.43" fill="url(#xh)"/>
<rect x="228.1" y="623.23" width="14.3" height="15.63" fill="#676767" stroke="#161616" stroke-width="1.32"/>
<rect x="231.93" y="624.33" width="6.32" height="13.43" fill="url(#xh)"/>
<rect x="228.1" y="655.63" width="14.3" height="15.63" fill="#676767" stroke="#161616" stroke-width="1.32"/>
<rect x="231.93" y="656.73" width="6.32" height="13.43" fill="url(#xh)"/>
<text x="160.7" y="445.4" font-size="12.5" textLength="48.1" lengthAdjust="spacingAndGlyphs" fill="#5e5e5e">Алюминий</text>
<text x="260.7" y="522" font-size="12.5" textLength="38.3" lengthAdjust="spacingAndGlyphs" fill="#5e5e5e">Магнит</text>
<text x="261.3" y="548.5" font-size="12.5" textLength="35.5" lengthAdjust="spacingAndGlyphs" fill="#5e5e5e">Железо</text>
<text x="109.6" y="613" font-size="12.5" textLength="48.4" lengthAdjust="spacingAndGlyphs" fill="#5e5e5e">Алюминий</text>
<circle cx="206.6" cy="601.8" r="1" fill="#161616"/>
<path d="M188.9 703.6L179.47 702.1L179.47 705.1Z" fill="#161616" stroke="none"/>
<path d="M201.7 703.6L211.13 702.1L211.13 705.1Z" fill="#161616" stroke="none"/>
<path d="M214.8 717.3L205.37 715.8L205.37 718.8Z" fill="#161616" stroke="none"/>
<path d="M227.6 717.3L237.03 715.8L237.03 718.8Z" fill="#161616" stroke="none"/>
<path d="M201.7 737.2L192.27 735.7L192.27 738.7Z" fill="#161616" stroke="none"/>
<path d="M214.8 737.2L224.23 735.7L224.23 738.7Z" fill="#161616" stroke="none"/>
<path d="M159.6 447.4H212M212 447.4L188.4 493.2M212 447.4L227.9 493.2M255.8 524.8H299.2M256.3 524.8L188.4 507.6M256.3 524.8L242.9 513M255.8 551.3H297.4M256.3 551.3L188.4 562.3M256.3 551.3L242.9 563.5M108.2 615.6H160.2M160.2 615.6L206.6 601.8M188.9 671.5V704.6M227.6 671.5V718.8M201.7 690.5V738.8M214.8 690.5V738.8M169.5 703.6H214.5M201.7 717.3H252M188.6 737.2H228.8" stroke="#333" stroke-width="0.95" fill="none"/>
<text x="169.6" y="701.8" font-size="17.5" textLength="9.8" lengthAdjust="spacingAndGlyphs" fill="#3c3c3c" font-style="italic">δ</text>
<text x="238" y="715.5" font-size="17.5" textLength="9.8" lengthAdjust="spacingAndGlyphs" fill="#3c3c3c" font-style="italic">δ</text>
<text x="203.4" y="734.6" font-size="14" textLength="10" lengthAdjust="spacingAndGlyphs" fill="#3c3c3c" font-style="normal">10</text></g>
<g><clipPath id="cp3"><rect x="203.71" y="886.9" width="14.48" height="236.83"/></clipPath>
<path d="M202.71 869.86L219.19 890.46M202.71 877.04L219.19 897.65M202.71 884.22L219.19 904.83M202.71 891.4L219.19 912.01M202.71 898.58L219.19 919.19M202.71 905.76L219.19 926.37M202.71 912.94L219.19 933.55M202.71 920.12L219.19 940.73M202.71 927.3L219.19 947.91M202.71 934.48L219.19 955.09M202.71 941.66L219.19 962.27M202.71 948.85L219.19 969.45M202.71 956.03L219.19 976.63M202.71 963.21L219.19 983.81M202.71 970.39L219.19 990.99M202.71 977.57L219.19 998.17M202.71 984.75L219.19 1005.35M202.71 991.93L219.19 1012.53M202.71 999.11L219.19 1019.71M202.71 1006.29L219.19 1026.89M202.71 1013.47L219.19 1034.07M202.71 1020.65L219.19 1041.25M202.71 1027.83L219.19 1048.43M202.71 1035.01L219.19 1055.61M202.71 1042.19L219.19 1062.79M202.71 1049.37L219.19 1069.97M202.71 1056.55L219.19 1077.15M202.71 1063.73L219.19 1084.33M202.71 1070.91L219.19 1091.51M202.71 1078.09L219.19 1098.69M202.71 1085.27L219.19 1105.87M202.71 1092.45L219.19 1113.05M202.71 1099.63L219.19 1120.23M202.71 1106.81L219.19 1127.41M202.71 1113.99L219.19 1134.6M202.71 1121.17L219.19 1141.78" stroke="#333" stroke-width="0.95" fill="none" clip-path="url(#cp3)"/>
<rect x="203.71" y="886.9" width="14.48" height="236.83" fill="none" stroke="#161616" stroke-width="1.88"/>
<rect x="176.93" y="897.97" width="9.13" height="213.22" fill="#fff" stroke="#161616" stroke-width="1.54"/>
<rect x="173.42" y="907.1" width="3.52" height="53.82" fill="#8b8b8b" stroke="#161616" stroke-width="1.1"/>
<rect x="173.42" y="978.22" width="3.52" height="53.82" fill="#8b8b8b" stroke="#161616" stroke-width="1.1"/>
<rect x="173.42" y="1049.35" width="3.52" height="53.82" fill="#8b8b8b" stroke="#161616" stroke-width="1.1"/>
<rect x="173.42" y="907.6" width="15.79" height="17.26" fill="#737373" stroke="#161616" stroke-width="1.38"/>
<rect x="177.93" y="908.7" width="7.13" height="15.06" fill="url(#xh)"/>
<rect x="173.42" y="943.16" width="15.79" height="17.25" fill="#737373" stroke="#161616" stroke-width="1.38"/>
<rect x="177.93" y="944.26" width="7.13" height="15.05" fill="url(#xh)"/>
<rect x="173.42" y="978.72" width="15.79" height="17.25" fill="#737373" stroke="#161616" stroke-width="1.38"/>
<rect x="177.93" y="979.82" width="7.13" height="15.05" fill="url(#xh)"/>
<rect x="173.42" y="1014.28" width="15.79" height="17.26" fill="#737373" stroke="#161616" stroke-width="1.38"/>
<rect x="177.93" y="1015.38" width="7.13" height="15.06" fill="url(#xh)"/>
<rect x="173.42" y="1049.85" width="15.79" height="17.25" fill="#737373" stroke="#161616" stroke-width="1.38"/>
<rect x="177.93" y="1050.95" width="7.13" height="15.05" fill="url(#xh)"/>
<rect x="173.42" y="1085.41" width="15.79" height="17.25" fill="#737373" stroke="#161616" stroke-width="1.38"/>
<rect x="177.93" y="1086.51" width="7.13" height="15.05" fill="url(#xh)"/>
<rect x="235.84" y="897.97" width="9.13" height="213.22" fill="#fff" stroke="#161616" stroke-width="1.54"/>
<rect x="245.47" y="907.1" width="3.52" height="53.82" fill="#8b8b8b" stroke="#161616" stroke-width="1.1"/>
<rect x="245.47" y="978.22" width="3.52" height="53.82" fill="#8b8b8b" stroke="#161616" stroke-width="1.1"/>
<rect x="245.47" y="1049.35" width="3.52" height="53.82" fill="#8b8b8b" stroke="#161616" stroke-width="1.1"/>
<rect x="232.69" y="907.6" width="15.79" height="17.26" fill="#737373" stroke="#161616" stroke-width="1.38"/>
<rect x="236.84" y="908.7" width="7.13" height="15.06" fill="url(#xh)"/>
<rect x="232.69" y="943.16" width="15.79" height="17.25" fill="#737373" stroke="#161616" stroke-width="1.38"/>
<rect x="236.84" y="944.26" width="7.13" height="15.05" fill="url(#xh)"/>
<rect x="232.69" y="978.72" width="15.79" height="17.25" fill="#737373" stroke="#161616" stroke-width="1.38"/>
<rect x="236.84" y="979.82" width="7.13" height="15.05" fill="url(#xh)"/>
<rect x="232.69" y="1014.28" width="15.79" height="17.26" fill="#737373" stroke="#161616" stroke-width="1.38"/>
<rect x="236.84" y="1015.38" width="7.13" height="15.06" fill="url(#xh)"/>
<rect x="232.69" y="1049.85" width="15.79" height="17.25" fill="#737373" stroke="#161616" stroke-width="1.38"/>
<rect x="236.84" y="1050.95" width="7.13" height="15.05" fill="url(#xh)"/>
<rect x="232.69" y="1085.41" width="15.79" height="17.25" fill="#737373" stroke="#161616" stroke-width="1.38"/>
<rect x="236.84" y="1086.51" width="7.13" height="15.05" fill="url(#xh)"/>
<text x="171.9" y="853.4" font-size="13.5" textLength="38.3" lengthAdjust="spacingAndGlyphs" fill="#5e5e5e">Железо</text>
<text x="268.2" y="939" font-size="13.5" textLength="42.4" lengthAdjust="spacingAndGlyphs" fill="#5e5e5e">Магнит</text>
<text x="269.1" y="968" font-size="13.5" textLength="39.3" lengthAdjust="spacingAndGlyphs" fill="#5e5e5e">Железо</text>
<text x="95.7" y="1045" font-size="13.5" textLength="51.7" lengthAdjust="spacingAndGlyphs" fill="#5e5e5e">Алюминий</text>
<circle cx="208.6" cy="1034.3" r="1.1" fill="#161616"/>
<path d="M189.7 1138.8L179.36 1137.16L179.36 1140.44Z" fill="#161616" stroke="none"/>
<path d="M203.8 1138.8L214.14 1137.16L214.14 1140.44Z" fill="#161616" stroke="none"/>
<path d="M218.1 1153.6L207.76 1151.96L207.76 1155.24Z" fill="#161616" stroke="none"/>
<path d="M232.2 1153.6L242.54 1151.96L242.54 1155.24Z" fill="#161616" stroke="none"/>
<path d="M203.8 1175.5L193.46 1173.86L193.46 1177.14Z" fill="#161616" stroke="none"/>
<path d="M218.1 1175.5L228.44 1173.86L228.44 1177.14Z" fill="#161616" stroke="none"/>
<path d="M170.3 856.5H216.4M215.6 856.5L189.7 906.6M215.6 856.5L232.2 906.6M261.9 941.8H311.2M262.4 941.8L189.7 923M262.4 941.8L249.1 926.2M261.9 970.7H311.2M262.4 970.7L189.7 984.2M262.4 970.7L249.1 987.2M94.1 1047.6H150.8M150.8 1047.6L208.6 1034.3M189.7 1103.5V1140.2M232.2 1103.5V1155.2M203.8 1123.7V1177.4M218.1 1123.7V1177.4M167.5 1138.8H218.8M203.8 1153.6H259M188 1175.5H234.5" stroke="#333" stroke-width="0.95" fill="none"/>
<text x="167.8" y="1136.8" font-size="19.5" textLength="11" lengthAdjust="spacingAndGlyphs" fill="#3c3c3c" font-style="italic">δ</text>
<text x="244.7" y="1151.6" font-size="19.5" textLength="11" lengthAdjust="spacingAndGlyphs" fill="#3c3c3c" font-style="italic">δ</text>
<text x="205.8" y="1172.6" font-size="15" textLength="11.2" lengthAdjust="spacingAndGlyphs" fill="#3c3c3c" font-style="normal">10</text></g>
<!-- table grid -->
<g stroke="#0a0a0a" stroke-width="1.7" fill="none"><path d="M15 4V1237.8M62 4V1237M345 4V1237M982 4V1237.8"/><path d="M14.2 393H982.8M14.2 785H982.8M14.2 1237H982.8"/><path d="M14.2 4.2H982.8" stroke="#5a5a5a"/><path d="M356 785H969M398 392.8H927" stroke="#5c5c5c" stroke-width="1.5"/></g>
<text class="num" transform="translate(25.6 30.8) scale(0.96 1)">2.</text><text class="num" transform="translate(25.6 419.9) scale(0.96 1)">3.</text><text class="num" transform="translate(25.6 811.9) scale(0.96 1)">4.</text>
</svg></body></html>
